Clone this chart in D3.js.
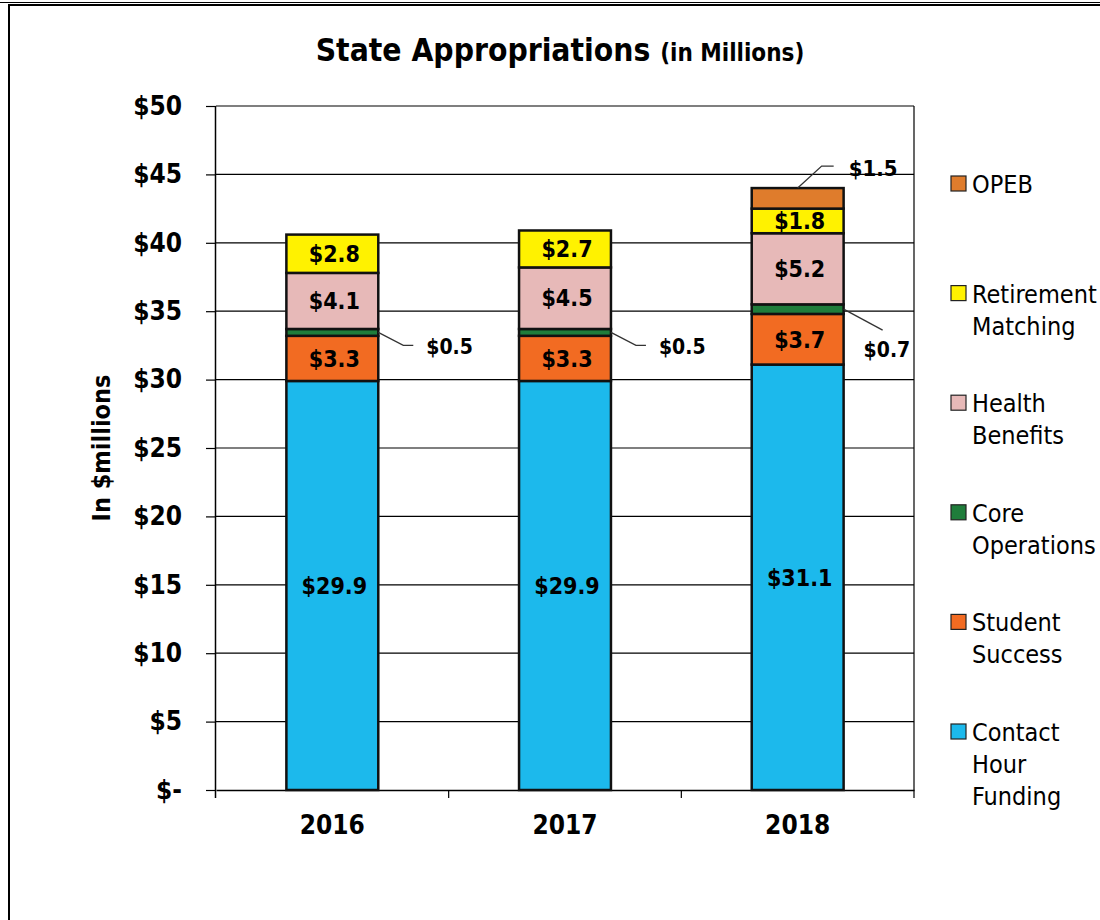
<!DOCTYPE html>
<html>
<head>
<meta charset="utf-8">
<script src="https://cdn.jsdelivr.net/npm/d3@7/dist/d3.min.js"></script>
<style>
  body { margin: 0; background: #fff; }
  svg text { font-family: "DejaVu Sans Condensed", "DejaVu Sans", sans-serif; fill: #000; }
</style>
</head>
<body>
<svg id="chart" width="1100" height="920"></svg>
<script>
// data
const years = ["2016", "2017", "2018"];
const contactHour = [29.9, 29.9, 31.1];
const studentSuccess = [3.3, 3.3, 3.7];
const coreOps = [0.5, 0.5, 0.7];
const healthBenefits = [4.1, 4.5, 5.2];
const retirement = [2.8, 2.7, 1.8];
const opeb = [0, 0, 1.5];
const yTicks = [0, 5, 10, 15, 20, 25, 30, 35, 40, 45, 50];

const seriesKeys = ["contact", "student", "core", "health", "retire", "opeb"];
const colors = ["#1cb9ec", "#f26b22", "#1f7d3b", "#e7b9b8", "#fff200", "#df7c2c"];
const legendLines = [["Contact", "Hour", "Funding"], ["Student", "Success"], ["Core", "Operations"],
  ["Health", "Benefits"], ["Retirement", "Matching"], ["OPEB"]];

const table = years.map((y, i) => ({
  year: y, contact: contactHour[i], student: studentSuccess[i], core: coreOps[i],
  health: healthBenefits[i], retire: retirement[i], opeb: opeb[i]
}));

const svg = d3.select("#chart");
const margin = { top: 106, right: 186, bottom: 130, left: 216 };
const W = 1100, H = 920;

// outer frame (runs off the right/bottom like the screenshot)
svg.append("rect").attr("x", 9).attr("y", 5).attr("width", 1200).attr("height", 1000)
  .attr("fill", "none").attr("stroke", "#000").attr("stroke-width", 2);
svg.append("line").attr("x1", 0).attr("x2", W).attr("y1", 2.5).attr("y2", 2.5)
  .attr("stroke", "#000").attr("stroke-width", 1);

const x = d3.scaleBand().domain(years).range([margin.left, W - margin.right])
  .paddingInner(0.605).paddingOuter(0.3025);
const y = d3.scaleLinear().domain([0, 50]).range([H - margin.bottom, margin.top]);

// gridlines
svg.append("g").selectAll("line").data(yTicks.slice(1)).join("line")
  .attr("x1", margin.left).attr("x2", W - margin.right)
  .attr("y1", d => y(d)).attr("y2", d => y(d))
  .attr("stroke", "#000").attr("stroke-width", 1.2);
svg.append("line").attr("x1", W - margin.right).attr("x2", W - margin.right)
  .attr("y1", y(50)).attr("y2", y(0)).attr("stroke", "#000").attr("stroke-width", 1.2);

// y axis
const yAxis = svg.append("g").attr("transform", `translate(${margin.left},0)`)
  .call(d3.axisLeft(y).tickValues(yTicks).tickSize(10).tickPadding(24)
    .tickFormat(d => d === 0 ? "$-" : "$" + d));
yAxis.selectAll("text").attr("font-size", 26).attr("font-weight", "bold");
yAxis.select(".domain").attr("d", `M-0.5,${y(50)}V${y(0) + 8}`).attr("stroke-width", 1.5);
yAxis.selectAll(".tick line").attr("stroke-width", 1.2);

// x axis
const xAxis = svg.append("g").attr("transform", `translate(0,${y(0)})`)
  .call(d3.axisBottom(x).tickSize(0).tickPadding(26));
xAxis.selectAll("text").attr("font-size", 26).attr("font-weight", "bold");
xAxis.select(".domain").attr("stroke-width", 1.5);
const step = x.step();
svg.append("g").selectAll("line").data(years).join("line")
  .attr("x1", d => x(d) + x.bandwidth() / 2 + step / 2)
  .attr("x2", d => x(d) + x.bandwidth() / 2 + step / 2)
  .attr("y1", y(0)).attr("y2", y(0) + 8)
  .attr("stroke", "#000").attr("stroke-width", 1.2);

// stacked bars
const stacked = d3.stack().keys(seriesKeys)(table);
const layers = svg.append("g").selectAll("g").data(stacked).join("g")
  .attr("fill", (d, i) => colors[i]);
layers.selectAll("rect").data(d => d.filter(s => s[1] - s[0] > 0)).join("rect")
  .attr("x", d => x(d.data.year))
  .attr("width", x.bandwidth())
  .attr("y", d => y(d[1]))
  .attr("height", d => y(d[0]) - y(d[1]))
  .attr("stroke", "#111").attr("stroke-width", 2.5);

// labels inside segments
const outside = new Set(["core", "opeb"]);
stacked.forEach(layer => {
  if (outside.has(layer.key)) return;
  svg.append("g").selectAll("text").data(layer.filter(s => s[1] - s[0] > 0)).join("text")
    .attr("x", d => x(d.data.year) + x.bandwidth() / 2 + 2)
    .attr("y", d => y((d[0] + d[1]) / 2))
    .attr("dy", "0.36em")
    .attr("text-anchor", "middle")
    .attr("font-size", 23).attr("font-weight", "bold")
    .text(d => "$" + d3.format(".1f")(d[1] - d[0]));
});

// callout labels with leader lines
const coreLayer = stacked[seriesKeys.indexOf("core")];
coreLayer.forEach((d, i) => {
  const x0 = x(d.data.year) + x.bandwidth();
  const y0 = y((d[0] + d[1]) / 2);
  const val = "$" + d3.format(".1f")(d[1] - d[0]);
  if (i < 2) {
    svg.append("path").attr("d", `M${x0},${y0}L${x0 + 25},${y0 + 13}H${x0 + 35}`)
      .attr("fill", "none").attr("stroke", "#333").attr("stroke-width", 1.3);
    svg.append("text").attr("x", x0 + 48).attr("y", y0 + 14).attr("dy", "0.36em")
      .attr("font-size", 21).attr("font-weight", "bold").text(val);
  } else {
    svg.append("path").attr("d", `M${x0},${y0}L${x0 + 39},${y0 + 21}`)
      .attr("fill", "none").attr("stroke", "#333").attr("stroke-width", 1.3);
    svg.append("text").attr("x", x0 + 20).attr("y", y0 + 40).attr("dy", "0.36em")
      .attr("font-size", 21).attr("font-weight", "bold").text(val);
  }
});
const opebLayer = stacked[seriesKeys.indexOf("opeb")];
opebLayer.filter(d => d[1] - d[0] > 0).forEach(d => {
  const x0 = x(d.data.year) + x.bandwidth() / 2;
  const y0 = y(d[1]);
  svg.append("path").attr("d", `M${x0},${y0}L${x0 + 24},${y0 - 22}H${x0 + 36}`)
    .attr("fill", "none").attr("stroke", "#333").attr("stroke-width", 1.3);
  svg.append("text").attr("x", x0 + 51).attr("y", y0 - 20).attr("dy", "0.36em")
    .attr("font-size", 22).attr("font-weight", "bold").text("$" + d3.format(".1f")(d[1] - d[0]));
});

// title
const title = svg.append("text").attr("x", 560).attr("y", 61).attr("text-anchor", "middle")
  .attr("font-weight", "bold");
title.append("tspan").attr("font-size", 31.5).text("State Appropriations ");
title.append("tspan").attr("font-size", 24).text("(in Millions)");

// y axis title
svg.append("text").attr("transform", `translate(110,${(y(0) + y(50)) / 2}) rotate(-90)`)
  .attr("text-anchor", "middle").attr("font-size", 25).attr("font-weight", "bold")
  .text("In $millions");

// legend (top to bottom reversed from stack order)
const legend = svg.append("g");
const order = d3.range(seriesKeys.length).reverse();
order.forEach((si, k) => {
  const top = 184 + k * 109.6;
  legend.append("rect").attr("x", 951).attr("y", top - 8).attr("width", 15).attr("height", 15)
    .attr("fill", colors[si]).attr("stroke", "#222").attr("stroke-width", 1.2);
  const t = legend.append("text").attr("x", 972).attr("y", top).attr("font-size", 25);
  legendLines[si].forEach((ln, j) => {
    t.append("tspan").attr("x", 972).attr("dy", j === 0 ? "0.36em" : 32).text(ln);
  });
});
</script>
</body>
</html>
